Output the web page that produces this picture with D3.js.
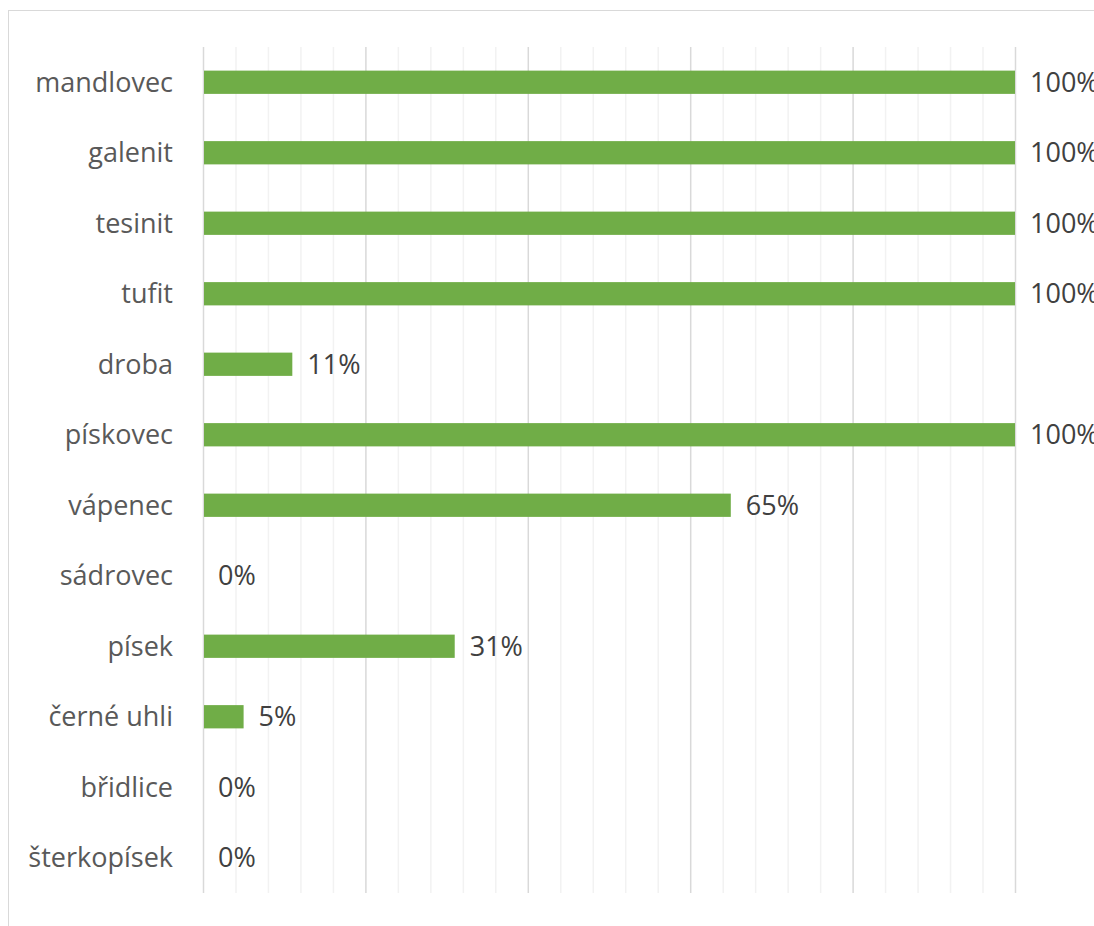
<!DOCTYPE html>
<html><head><meta charset="utf-8">
<script src="https://cdn.jsdelivr.net/npm/d3@7"></script>
<style>body{margin:0;background:#fff}</style>
</head><body>
<svg id="c" width="1094" height="926"></svg>
<script>
const categories = ["mandlovec","galenit","tesinit","tufit","droba","pískovec","vápenec","sádrovec","písek","černé uhli","břidlice","šterkopísek"];
const values = [100,100,100,100,11,100,65,0,31,5,0,0];
const labels = ["100%","100%","100%","100%","11%","100%","65%","0%","31%","5%","0%","0%"];

const svg = d3.select("#c");
const font = "'Open Sans', 'Noto Sans', sans-serif";
svg.append("rect").attr("x",8.5).attr("y",10.5).attr("width",1200).attr("height",1000)
  .attr("fill","#fff").attr("stroke","#d9d9d9");

const m = {l:203, r:1015, t:47, b:893};
const x = d3.scaleLinear().domain([0,100]).range([m.l,m.r]);
const y = d3.scaleBand().domain(categories).range([m.t,m.b]).paddingInner(0.67).paddingOuter(0.335);

const minor = d3.range(0,101,4);
svg.append("g").selectAll("line").data(minor.filter(d=>d%20!==0)).join("line")
  .attr("x1",d=>x(d)+0.5).attr("x2",d=>x(d)+0.5).attr("y1",m.t).attr("y2",m.b)
  .attr("stroke","#f2f2f2").attr("stroke-width",1.5);
svg.append("g").selectAll("line").data(d3.range(0,101,20)).join("line")
  .attr("x1",d=>x(d)+0.5).attr("x2",d=>x(d)+0.5).attr("y1",m.t).attr("y2",m.b)
  .attr("stroke","#d9d9d9").attr("stroke-width",1.5);

const data = categories.map((c,i)=>({c,v:values[i],l:labels[i]}));
svg.append("g").selectAll("rect").data(data).join("rect")
  .attr("x",x(0)+1).attr("y",d=>y(d.c)).attr("height",y.bandwidth())
  .attr("width",d=>Math.max(0,x(d.v)-x(0)-1)).attr("fill","#70ad47");

svg.append("g").selectAll("text").data(data).join("text")
  .attr("x",d=>x(d.v)+15).attr("y",d=>y(d.c)+y.bandwidth()/2).attr("dy","0.36em")
  .attr("font-family",font).attr("font-size",27).attr("fill","#404040").text(d=>d.l);

svg.append("g").selectAll("text").data(data).join("text")
  .attr("x",173).attr("y",d=>y(d.c)+y.bandwidth()/2).attr("dy","0.36em")
  .attr("text-anchor","end")
  .attr("font-family",font).attr("font-size",27).attr("fill","#595959").text(d=>d.c);
</script>
</body></html>
